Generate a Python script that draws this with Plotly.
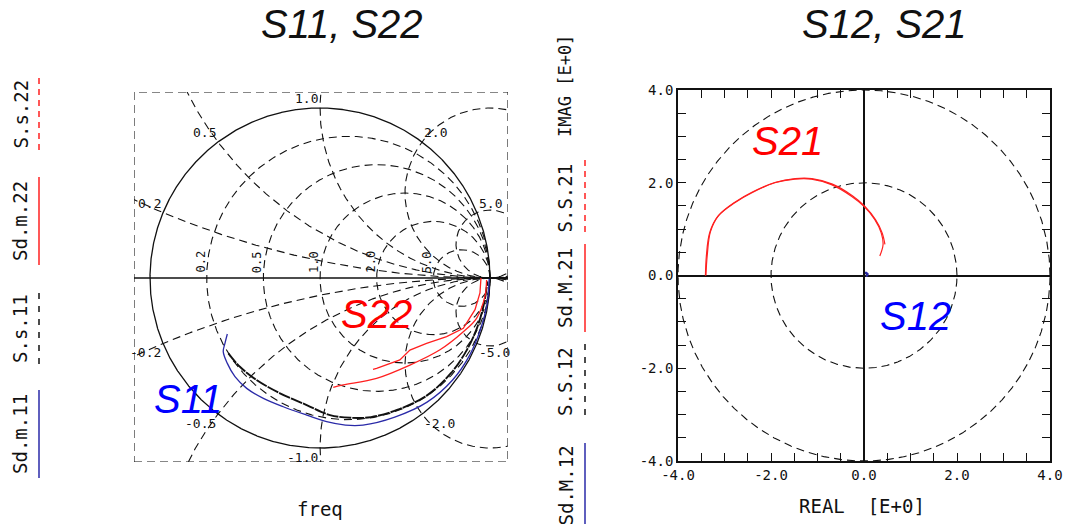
import numpy as np
import plotly.graph_objects as go

W, H = 1066, 524

# ---- Smith chart data (reflection coefficient, real / imaginary) ----
s11_meas_re = [-0.545, -0.559, -0.569, -0.545, -0.500, -0.431, -0.333, -0.216, -0.078, 0.039,
               0.150, 0.253, 0.440, 0.630, 0.780, 0.880, 0.945, 0.980, 0.992, 0.995]
s11_meas_im = [-0.329, -0.384, -0.433, -0.502, -0.580, -0.649, -0.708, -0.757, -0.806, -0.845,
               -0.865, -0.865, -0.818, -0.730, -0.600, -0.455, -0.300, -0.170, -0.070, -0.005]

s11_sim_re = [-0.539, -0.471, -0.373, -0.235, -0.078, 0.059, 0.180, 0.300, 0.453, 0.630,
              0.770, 0.860, 0.925, 0.965, 0.985]
s11_sim_im = [-0.443, -0.522, -0.600, -0.678, -0.747, -0.806, -0.822, -0.818, -0.776, -0.690,
              -0.560, -0.430, -0.290, -0.150, -0.020]

s22_meas_re = [0.947, 0.941, 0.912, 0.843, 0.745, 0.627, 0.529, 0.470, 0.333, 0.312]
s22_meas_im = [0.000, -0.088, -0.186, -0.296, -0.345, -0.384, -0.424, -0.482, -0.531, -0.537]

s22_sim_re = [0.980, 0.970, 0.921, 0.843, 0.706, 0.529, 0.333, 0.137, 0.078]
s22_sim_im = [-0.012, -0.110, -0.237, -0.316, -0.422, -0.512, -0.590, -0.629, -0.643]

# ---- Polar-plane data (REAL / IMAG) ----
s21_meas_re = [-3.41, -3.39, -3.32, -3.14, -2.78, -2.42, -1.92, -1.49, -1.13, -0.70,
               -0.27, 0.00, 0.23, 0.37, 0.41, 0.34]
s21_meas_im = [0.00, 0.42, 0.92, 1.28, 1.57, 1.78, 2.00, 2.08, 2.08, 1.96,
               1.71, 1.49, 1.21, 0.92, 0.67, 0.42]
s21_sim_re = [-3.40, -3.37, -3.30, -3.12, -2.76, -2.40, -1.90, -1.48, -1.12, -0.68,
              -0.25, 0.02, 0.25, 0.39, 0.45]
s21_sim_im = [0.00, 0.45, 0.95, 1.30, 1.59, 1.80, 2.01, 2.09, 2.09, 1.97,
              1.72, 1.49, 1.20, 0.92, 0.67]

s12_meas_re = [0.02, 0.05, 0.08, 0.07, 0.04]
s12_meas_im = [0.06, 0.06, 0.03, 0.00, -0.01]
s12_sim_re = [0.01, 0.04, 0.07, 0.06]
s12_sim_im = [0.04, 0.05, 0.02, 0.00]

# ---- grid / axis values ----
resistance_values = [0.2, 0.5, 1.0, 2.0, 5.0]
reactance_values = [0.2, 0.5, 1.0, 2.0, 5.0, -0.2, -0.5, -1.0, -2.0, -5.0]
ring_radii = [2.0, 4.0]
polar_tickvals = [-4, -2, 0, 2, 4]
polar_ticktext = ["-4.0", "-2.0", "0.0", "2.0", "4.0"]

MONO = "DejaVu Sans Mono"
SANS = "Liberation Sans, Arial"
BLACK = "#111111"
RED = "#ff2020"
NAVY = "#2a2aa8"
GRID_DASH = "8px,5px"

# Smith chart window (Gamma units)
SX = [-1.094, 1.106]
SY = [-1.082, 1.094]
fig = go.Figure()


def circle(cx, cy, r, n=2400):
    t = np.linspace(0, 2 * np.pi, n)
    return cx + r * np.cos(t), cy + r * np.sin(t)


grid_line = dict(color=BLACK, width=1.1, dash=GRID_DASH)

# constant-resistance circles
for r in resistance_values:
    gx, gy = circle(r / (1 + r), 0, 1 / (1 + r))
    fig.add_trace(go.Scatter(x=gx, y=gy, mode="lines", line=grid_line,
                             xaxis="x", yaxis="y", hoverinfo="skip"))
# constant-reactance arcs
for xv in reactance_values:
    gx, gy = circle(1, 1 / xv, 1 / abs(xv), n=6000)
    fig.add_trace(go.Scatter(x=gx, y=gy, mode="lines", line=grid_line,
                             xaxis="x", yaxis="y", hoverinfo="skip"))
# outer |Gamma| = 1 circle and real axis
ux, uy = circle(0, 0, 1)
fig.add_trace(go.Scatter(x=ux, y=uy, mode="lines", line=dict(color=BLACK, width=1.3),
                         xaxis="x", yaxis="y", hoverinfo="skip"))
fig.add_trace(go.Scatter(x=SX, y=[0, 0], mode="lines", line=dict(color=BLACK, width=1.5),
                         xaxis="x", yaxis="y", hoverinfo="skip"))

# measured / simulated reflection traces
fig.add_trace(go.Scatter(x=s11_sim_re, y=s11_sim_im, mode="lines", name="S.s.11",
                         line=dict(color=BLACK, width=1.9, dash="12px,1px", shape="spline"),
                         xaxis="x", yaxis="y"))
fig.add_trace(go.Scatter(x=s11_meas_re, y=s11_meas_im, mode="lines", name="Sd.m.11",
                         line=dict(color=NAVY, width=1.3, shape="spline"), xaxis="x", yaxis="y"))
fig.add_trace(go.Scatter(x=s22_sim_re, y=s22_sim_im, mode="lines", name="S.s.22",
                         line=dict(color=RED, width=1.3, shape="spline"), xaxis="x", yaxis="y"))
fig.add_trace(go.Scatter(x=s22_meas_re, y=s22_meas_im, mode="lines", name="Sd.m.22",
                         line=dict(color=RED, width=1.3), xaxis="x", yaxis="y"))

# ---- right plane: dashed reference rings ----
for rr in ring_radii:
    gx, gy = circle(0, 0, rr)
    fig.add_trace(go.Scatter(x=gx, y=gy, mode="lines", line=grid_line,
                             xaxis="x2", yaxis="y2", hoverinfo="skip"))
fig.add_trace(go.Scatter(x=s21_sim_re, y=s21_sim_im, mode="lines", name="S.S.21",
                         line=dict(color=RED, width=1.2, shape="spline"), xaxis="x2", yaxis="y2"))
fig.add_trace(go.Scatter(x=s21_meas_re, y=s21_meas_im, mode="lines", name="Sd.M.21",
                         line=dict(color=RED, width=1.2, shape="spline"), xaxis="x2", yaxis="y2"))
fig.add_trace(go.Scatter(x=s12_sim_re, y=s12_sim_im, mode="lines", name="S.S.12",
                         line=dict(color=BLACK, width=1.5), xaxis="x2", yaxis="y2"))
fig.add_trace(go.Scatter(x=s12_meas_re, y=s12_meas_im, mode="lines", name="Sd.M.12",
                         line=dict(color=NAVY, width=2), xaxis="x2", yaxis="y2"))


def px(x):
    return x / W


def py(y):
    return 1 - y / H


annotations = []
shapes = []

# Smith chart frame
shapes.append(dict(type="rect", xref="x", yref="y", x0=SX[0], x1=SX[1], y0=SY[0], y1=SY[1],
                   line=dict(color=BLACK, width=1.1, dash=GRID_DASH)))

# resistance labels along the real axis
for r in resistance_values:
    annotations.append(dict(x=(r - 1) / (r + 1) - 0.035, y=0.095, xref="x", yref="y",
                            text=f"{r:.1f}", textangle=-90, showarrow=False,
                            xanchor="center", yanchor="middle",
                            font=dict(family=MONO, size=12, color=BLACK)))
# reactance labels on the rim
for xv in reactance_values:
    den = xv * xv + 1
    bx, by = (xv * xv - 1) / den, 2 * xv / den
    annotations.append(dict(x=bx, y=by, xref="x", yref="y", text=f"{xv:.1f}", showarrow=False,
                            xanchor="left" if abs(xv) > 1 else "right",
                            yanchor="bottom" if xv > 0 else "top",
                            font=dict(family=MONO, size=13, color=BLACK)))

# titles and trace callouts
for text, x, y, color, size in [("S11, S22", 342, 24, BLACK, 40), ("S12, S21", 884, 24, BLACK, 40),
                                ("S22", 376, 314, "#ff0000", 40), ("S11", 188, 399, "#0000ff", 40),
                                ("S21", 787, 141, "#ff0000", 40), ("S12", 915, 316, "#0000ff", 40)]:
    annotations.append(dict(x=px(x), y=py(y), xref="paper", yref="paper", text=text,
                            showarrow=False, xanchor="center", yanchor="middle",
                            font=dict(family=SANS, size=size, color=color, style="italic")))

# axis captions
captions = [("freq", 320, 509, 0, 19), ("REAL  [E+0]", 862, 506, 0, 19),
            ("IMAG [E+0]", 565, 86, -90, 17)]
for text, x, y, ang, size in captions:
    annotations.append(dict(x=px(x), y=py(y), xref="paper", yref="paper", text=text,
                            textangle=ang, showarrow=False, xanchor="center", yanchor="middle",
                            font=dict(family=MONO, size=size, color=BLACK)))

# vertical legends: (label, text x, line x, top, bottom, color, dash)
legend_items = [
    ("S.s.22", 20, 39, 78, 151, RED, "6px,5px"),
    ("Sd.m.22", 20, 39, 177, 265, RED, "solid"),
    ("S.s.11", 20, 39, 293, 365, BLACK, "6px,7px"),
    ("Sd.m.11", 20, 39, 390, 478, NAVY, "solid"),
    ("S.S.21", 565, 585, 160, 237, RED, "6px,5px"),
    ("Sd.M.21", 565, 585, 244, 332, RED, "solid"),
    ("S.S.12", 565, 585, 344, 420, BLACK, "6px,7px"),
    ("Sd.M.12", 565, 585, 443, 528, NAVY, "solid"),
]
for label, tx, lx, top, bot, color, dash in legend_items:
    annotations.append(dict(x=px(tx), y=py((top + bot) / 2), xref="paper", yref="paper",
                            text=label, textangle=-90, showarrow=False,
                            xanchor="center", yanchor="middle",
                            font=dict(family=MONO, size=19, color=BLACK)))
    shapes.append(dict(type="line", xref="paper", yref="paper", x0=px(lx), x1=px(lx),
                       y0=py(top), y1=py(bot), line=dict(color=color, width=1.5, dash=dash)))

hidden = dict(visible=True, showgrid=False, zeroline=False, showticklabels=False,
              ticks="", showline=False, fixedrange=True, automargin=False)

polar_axis = dict(range=[-4, 4], tickvals=polar_tickvals, ticktext=polar_ticktext,
                  ticks="inside", ticklen=8, tickwidth=1.3, tickcolor=BLACK,
                  minor=dict(dtick=0.5, tick0=0, ticks="inside", ticklen=8, tickwidth=1.3,
                             tickcolor=BLACK, showgrid=False),
                  showline=True, linecolor=BLACK, linewidth=1.6, mirror="allticks",
                  showgrid=False, zeroline=True, zerolinecolor=BLACK, zerolinewidth=1.6,
                  tickfont=dict(family=MONO, size=14, color=BLACK), fixedrange=True,
                  automargin=False)

fig.update_layout(
    width=W, height=H, margin=dict(l=0, r=0, t=0, b=0, pad=0),
    paper_bgcolor="white", plot_bgcolor="white", showlegend=False,
    xaxis=dict(domain=[px(134), px(508)], range=SX, **hidden),
    yaxis=dict(domain=[py(462), py(92)], range=SY, **hidden),
    xaxis2=dict(domain=[px(678), px(1050)], anchor="y2", **polar_axis),
    yaxis2=dict(domain=[py(461), py(90)], anchor="x2", **polar_axis),
    annotations=annotations, shapes=shapes,
)

fig.write_html("out.html")
